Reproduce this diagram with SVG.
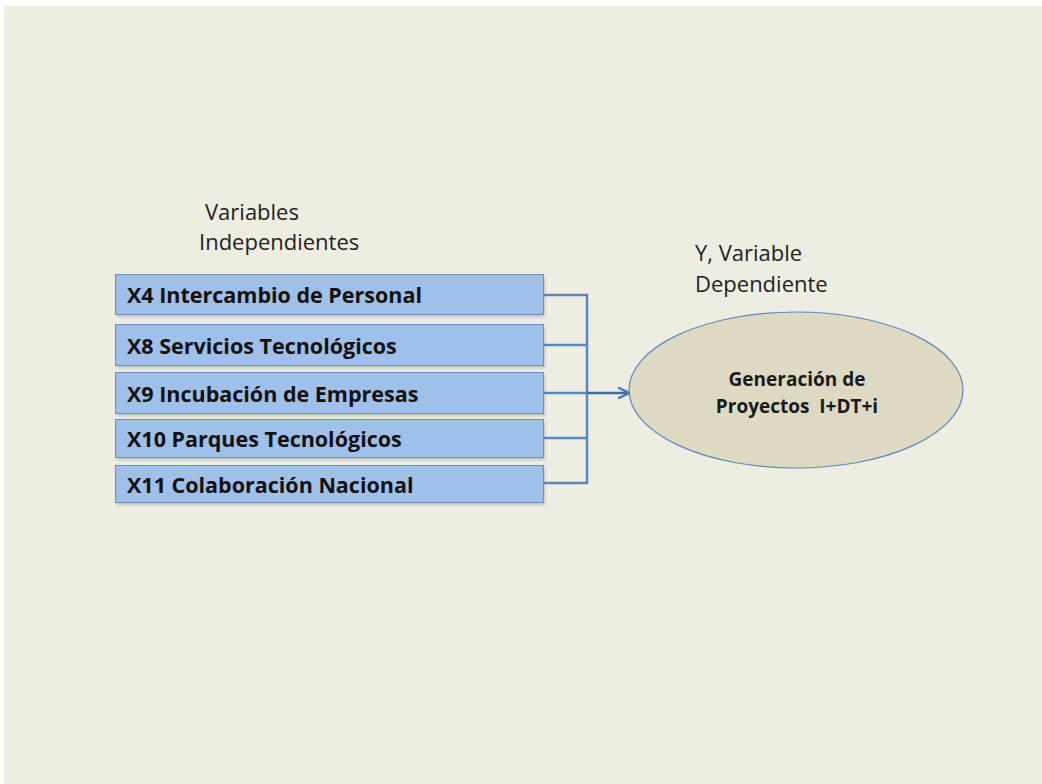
<svg xmlns="http://www.w3.org/2000/svg" width="1042" height="784" viewBox="0 0 1042 784">
  <defs>
    <style>
      .var { fill: #9fc0e8; stroke: #6d8fbf; stroke-width: 1; }
      .shadow { fill: #8c8c8c; opacity: 0.45; }
      .varText { font-family: "Open Sans", "Liberation Sans", sans-serif; font-weight: bold; font-size: 21.5px; fill: #111; }
      .label { font-family: "Open Sans", "Liberation Sans", sans-serif; font-size: 22px; fill: #222; }
      .yText { font-family: "Open Sans", "Liberation Sans", sans-serif; font-weight: bold; font-size: 19px; fill: #1a1a1a; text-anchor: middle; }
      .wire { fill: none; stroke: #5b87c0; stroke-width: 2.5; }
    </style>
    <marker id="arrow" viewBox="0 0 10 10" refX="9" refY="5" markerWidth="5.5" markerHeight="5.5" orient="auto" markerUnits="strokeWidth">
      <path d="M1,1 L9,5 L1,9" fill="none" stroke="#4a78b5" stroke-width="1.8" stroke-linejoin="miter"/>
    </marker>
    <filter id="soft" x="-5%" y="-20%" width="110%" height="150%">
      <feGaussianBlur stdDeviation="1.5"/>
    </filter>
  </defs>

  <!-- slide background -->
  <rect x="0" y="0" width="1042" height="784" fill="#ffffff"/>
  <rect x="4" y="6" width="1038" height="778" fill="#eeede2"/>

  <!-- headings -->
  <g id="heading-independent">
    <text class="label" x="205" y="220">Variables</text>
    <text class="label" x="199" y="250">Independientes</text>
  </g>
  <g id="heading-dependent">
    <text class="label" x="695" y="261">Y, Variable</text>
    <text class="label" x="695" y="292">Dependiente</text>
  </g>

  <!-- independent variables -->
  <g id="x4">
    <rect class="shadow" x="117" y="277" width="428" height="40" filter="url(#soft)"/>
    <rect class="var" x="115.5" y="274.5" width="428" height="40"/>
    <text class="varText" x="127" y="303">X4 Intercambio de Personal</text>
  </g>
  <g id="x8">
    <rect class="shadow" x="117" y="327" width="428" height="41" filter="url(#soft)"/>
    <rect class="var" x="115.5" y="324.5" width="428" height="41"/>
    <text class="varText" x="127" y="354">X8 Servicios Tecnológicos</text>
  </g>
  <g id="x9">
    <rect class="shadow" x="117" y="375" width="428" height="41" filter="url(#soft)"/>
    <rect class="var" x="115.5" y="372.5" width="428" height="41"/>
    <text class="varText" x="127" y="402">X9 Incubación de Empresas</text>
  </g>
  <g id="x10">
    <rect class="shadow" x="117" y="422" width="428" height="38" filter="url(#soft)"/>
    <rect class="var" x="115.5" y="419.5" width="428" height="38"/>
    <text class="varText" x="127" y="447">X10 Parques Tecnológicos</text>
  </g>
  <g id="x11">
    <rect class="shadow" x="117" y="468" width="428" height="37" filter="url(#soft)"/>
    <rect class="var" x="115.5" y="465.5" width="428" height="37"/>
    <text class="varText" x="127" y="493">X11 Colaboración Nacional</text>
  </g>

  <!-- dependent variable -->
  <g id="y">
    <ellipse cx="796" cy="390" rx="167" ry="78" fill="#ddd9c3" stroke="#5d88c0" stroke-width="1.2"/>
    <text class="yText" x="797" y="386">Generación de</text>
    <text class="yText" x="797" y="413" xml:space="preserve">Proyectos  I+DT+i</text>
  </g>

  <!-- connectors -->
  <g id="connectors">
    <path class="wire" d="M544,295 H587 V483 H544"/>
    <path class="wire" d="M544,345 H587"/>
    <path class="wire" d="M544,438 H587"/>
    <path class="wire" d="M544,393 H587"/>
    <path d="M587,393 H629" fill="none" stroke="#41699c" stroke-width="2.5" marker-end="url(#arrow)"/>
  </g>
</svg>
